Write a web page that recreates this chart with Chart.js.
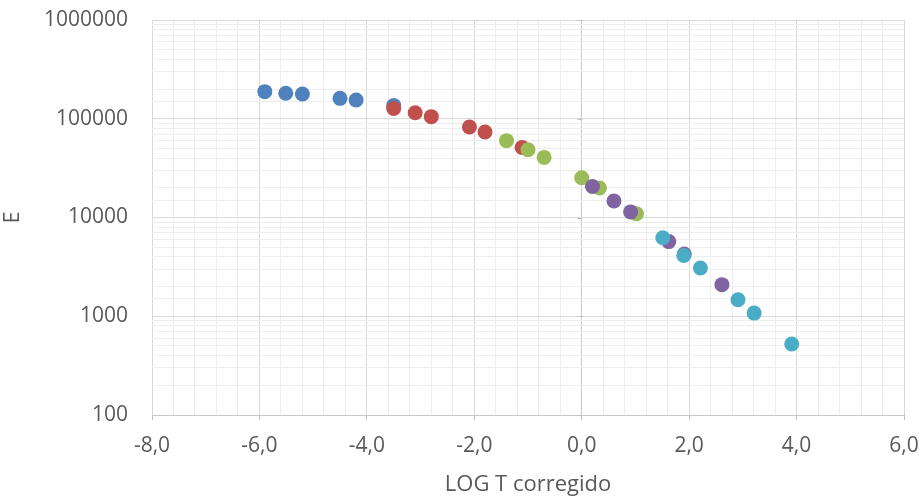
<!DOCTYPE html>
<html>
<head>
<meta charset="utf-8">
<script src="https://cdn.jsdelivr.net/npm/chart.js@4.4.1/dist/chart.umd.min.js"></script>
<style>
  html, body { margin: 0; padding: 0; background: #fff; }
  #wrap { width: 923px; height: 498px; }
</style>
</head>
<body>
<div id="wrap"><canvas id="chart" width="923" height="498"></canvas></div>
<script>
// values (x = LOG T corregido, y = E)
const serie1X = [-5.9, -5.51, -5.2, -4.5, -4.2, -3.5];
const serie1Y = [188000, 181000, 178000, 161000, 155000, 136000];

const serie2X = [-3.5, -3.1, -2.8, -2.09, -1.8, -1.11];
const serie2Y = [127000, 115000, 105000, 82600, 73500, 51300];

const serie3X = [-1.4, -1.0, -0.7, 0.0, 0.33, 1.02];
const serie3Y = [60000, 48600, 40600, 25300, 19900, 10900];

const serie4X = [0.2, 0.6, 0.91, 1.62, 1.91, 2.61];
const serie4Y = [20600, 14700, 11400, 5700, 4270, 2090];

const serie5X = [1.51, 1.9, 2.21, 2.91, 3.21, 3.91];
const serie5Y = [6240, 4130, 3080, 1470, 1076, 523];

const colors = ['#4f81bd', '#c0504d', '#9bbb59', '#8064a2', '#4bacc6'];

const xTitle = 'LOG T corregido';
const yTitle = 'E';

function pts(xs, ys) {
    return xs.map((x, i) => ({ x: x, y: ys[i] }));
}

const series = [
    pts(serie1X, serie1Y),
    pts(serie2X, serie2Y),
    pts(serie3X, serie3Y),
    pts(serie4X, serie4Y),
    pts(serie5X, serie5Y)
];

const textColor = '#595959';
const fontFamily = "'Open Sans', 'Liberation Sans', sans-serif";

function isDecade(v) {
    const l = Math.log10(v);
    return Math.abs(l - Math.round(l)) < 1e-6;
}

function isMajorX(v) {
    return Math.round(v * 10) % 20 === 0;
}

// short tick marks on the vertical axis that crosses at x = 0
const zeroAxis = {
    id: 'zeroAxis',
    afterDatasetsDraw(chart) {
        const ctx = chart.ctx;
        const xs = chart.scales.x;
        const ys = chart.scales.y;
        const px = Math.round(xs.getPixelForValue(0)) + 0.5;
        ctx.save();
        ctx.strokeStyle = '#bfbfbf';
        ctx.lineWidth = 1;
        ctx.beginPath();
        [100, 1000, 10000, 100000, 1000000].forEach(v => {
            const py = Math.round(ys.getPixelForValue(v)) + 0.5;
            ctx.moveTo(px - 5, py);
            ctx.lineTo(px, py);
        });
        ctx.stroke();
        ctx.restore();
    }
};

new Chart(document.getElementById('chart').getContext('2d'), {
    type: 'scatter',
    data: {
        datasets: series.map((d, i) => ({
            label: 'Serie' + (i + 1),
            data: d,
            backgroundColor: colors[i],
            borderColor: colors[i],
            borderWidth: 0,
            pointRadius: 7.5,
            pointHoverRadius: 7.5,
            order: series.length - i
        }))
    },
    options: {
        responsive: false,
        animation: false,
        layout: { padding: { left: 0, right: 19, top: 20, bottom: 0 } },
        plugins: {
            legend: { display: false },
            tooltip: { enabled: false }
        },
        scales: {
            x: {
                type: 'linear',
                min: -8,
                max: 6,
                afterBuildTicks: (scale) => {
                    const t = [];
                    for (let i = -80; i <= 60; i += 4) t.push({ value: i / 10 });
                    scale.ticks = t;
                },
                afterFit: (scale) => {
                    scale.height = 83;
                    scale.paddingLeft = 0;
                    scale.paddingRight = 0;
                },
                border: { display: false },
                grid: {
                    color: (c) => {
                        if (!c.tick) return '#eeeeee';
                        if (Math.abs(c.tick.value) < 1e-6) return '#c8c8c8';
                        return isMajorX(c.tick.value) ? '#d9d9d9' : '#eeeeee';
                    },
                    tickColor: (c) => (c.tick && isMajorX(c.tick.value)) ? '#bfbfbf' : 'rgba(0,0,0,0)',
                    tickLength: 5
                },
                ticks: {
                    autoSkip: false,
                    maxRotation: 0,
                    padding: 13,
                    color: textColor,
                    font: { family: fontFamily, size: 21 },
                    callback: (v) => isMajorX(v) ? v.toFixed(1).replace('.', ',') : ''
                },
                title: {
                    display: true,
                    text: xTitle,
                    color: textColor,
                    font: { family: fontFamily, size: 22 },
                    padding: { top: 0, bottom: 0 }
                }
            },
            y: {
                type: 'logarithmic',
                min: 100,
                max: 1000000,
                afterFit: (scale) => {
                    scale.width = 152;
                    scale.paddingTop = 0;
                    scale.paddingBottom = 0;
                },
                border: { display: false },
                grid: {
                    color: (c) => {
                        if (!c.tick) return '#eeeeee';
                        if (c.tick.value === 100) return '#c8c8c8';
                        return isDecade(c.tick.value) ? '#d9d9d9' : '#eeeeee';
                    },
                    drawTicks: false
                },
                ticks: {
                    autoSkip: false,
                    padding: 24,
                    color: textColor,
                    font: { family: fontFamily, size: 21 },
                    callback: (v) => isDecade(v) ? String(Math.round(v)) : ''
                },
                title: {
                    display: true,
                    text: yTitle,
                    color: textColor,
                    font: { family: fontFamily, size: 21 },
                    padding: { top: 0, bottom: 0 }
                }
            }
        }
    },
    plugins: [zeroAxis]
});
</script>
</body>
</html>
